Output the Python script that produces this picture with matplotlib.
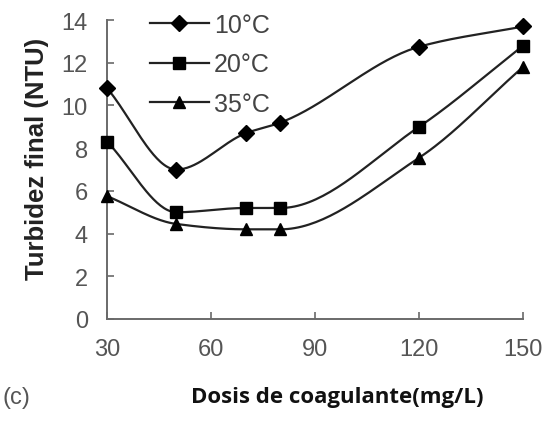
import numpy as np
import matplotlib
matplotlib.use("Agg")
import matplotlib.pyplot as plt

# data
dosis = [30, 50, 70, 80, 120, 150]
turb_10 = [10.8, 7.0, 8.7, 9.2, 12.75, 13.7]
turb_20 = [8.3, 5.0, 5.2, 5.2, 9.0, 12.8]
turb_35 = [5.75, 4.45, 4.2, 4.2, 7.55, 11.8]
series_labels = ["10°C", "20°C", "35°C"]
x_ticks = [30, 60, 90, 120, 150]
y_ticks = [0, 2, 4, 6, 8, 10, 12, 14]

tick_font = "Liberation Sans"
label_font = "Open Sans"


def smooth(x, y, n=40):
    # monotone cubic (Fritsch-Carlson) curve through the points
    x = np.asarray(x, float)
    y = np.asarray(y, float)
    h = np.diff(x)
    d = np.diff(y) / h
    m = np.zeros_like(y)
    m[0], m[-1] = d[0], d[-1]
    for i in range(1, len(x) - 1):
        if d[i - 1] * d[i] <= 0:
            m[i] = 0
        else:
            w1 = 2 * h[i] + h[i - 1]
            w2 = h[i] + 2 * h[i - 1]
            m[i] = (w1 + w2) / (w1 / d[i - 1] + w2 / d[i])
    xs, ys = [], []
    for i in range(len(x) - 1):
        t = np.linspace(0, 1, n)
        h00 = 2 * t ** 3 - 3 * t ** 2 + 1
        h10 = t ** 3 - 2 * t ** 2 + t
        h01 = -2 * t ** 3 + 3 * t ** 2
        h11 = t ** 3 - t ** 2
        xs.extend(x[i] + t * h[i])
        ys.extend(h00 * y[i] + h10 * h[i] * m[i] + h01 * y[i + 1] + h11 * h[i] * m[i + 1])
    return np.array(xs), np.array(ys)


fig = plt.figure(figsize=(5.47, 4.27), dpi=100)
ax = fig.add_axes([0.196, 0.2506, 0.76, 0.7])

line_col = "#222222"
axis_col = "#6a6a6a"
markers = ["D", "s", "^"]
sizes = [8, 8, 9]

handles = []
for yv, m, ms, lab in zip([turb_10, turb_20, turb_35], markers, sizes, series_labels):
    sx, sy = smooth(dosis, yv)
    ax.plot(sx, sy, color=line_col, lw=1.6, clip_on=False, zorder=3)
    ax.plot(dosis, yv, linestyle="none", marker=m, ms=ms, color="black",
            clip_on=False, zorder=4)
    h, = ax.plot([], [], color=line_col, lw=1.6, marker=m, ms=ms,
                 markerfacecolor="black", markeredgecolor="black")
    handles.append((h, lab))

ax.set_xlim(30, 150)
ax.set_ylim(0, 14)
ax.set_xticks(x_ticks)
ax.set_yticks(y_ticks)

for side in ["top", "right"]:
    ax.spines[side].set_visible(False)
for side in ["left", "bottom"]:
    ax.spines[side].set_color(axis_col)
    ax.spines[side].set_linewidth(1.4)

ax.tick_params(direction="in", length=5, width=1.2, color=axis_col,
               labelcolor="#555555", labelsize=17)
ax.tick_params(axis="y", pad=14)
ax.tick_params(axis="x", pad=14)
for lbl in ax.get_xticklabels() + ax.get_yticklabels():
    lbl.set_fontfamily(tick_font)

leg = ax.legend([h for h, _ in handles], [l for _, l in handles],
                loc="upper left", bbox_to_anchor=(150 / 547, 1 - 14 / 427),
                bbox_transform=fig.transFigure, frameon=False,
                handlelength=2.35, handletextpad=0.2, labelspacing=0.62,
                borderpad=0, borderaxespad=0,
                prop={"family": tick_font, "size": 18})
for t in leg.get_texts():
    t.set_color("#444444")

fig.text(37 / 547, 1 - 159 / 427, "Turbidez final (NTU)", rotation=90,
         ha="center", va="center", fontsize=18.5, fontweight="bold",
         family=tick_font, color="#222222")
fig.text(337 / 547, 1 - 398 / 427, "Dosis de coagulante(mg/L)",
         ha="center", va="center", fontsize=16, fontweight="bold",
         family=label_font, color="#111111")
fig.text(3 / 547, 1 - 398 / 427, "(c)", ha="left", va="center",
         fontsize=17, family=tick_font, color="#555555")

fig.savefig("out.png", dpi=100)
